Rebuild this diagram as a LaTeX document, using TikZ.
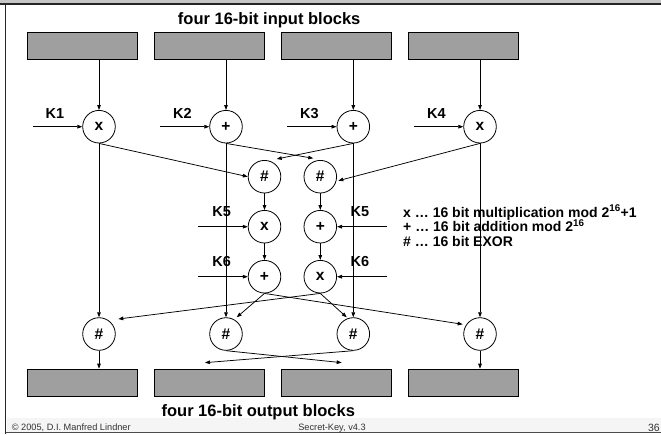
\documentclass[tikz,border=0pt]{standalone}
\usepackage{fontspec}
\setmainfont{Liberation Sans}
\usetikzlibrary{arrows.meta,calc}
\begin{document}
\begin{tikzpicture}[x=1pt,y=-1pt,
  blk/.style={draw=black,line width=1.3pt,fill=gray!75,minimum width=110pt,minimum height=27pt,inner sep=0pt},
  op/.style={circle,draw=black,line width=0.8pt,fill=white,minimum size=32.6pt,inner sep=0pt,font=\bfseries\fontsize{15.5}{15.5}\selectfont},
  arr/.style={-{Triangle[length=5pt,width=3.6pt]},line width=0.75pt},
  lab/.style={font=\bfseries\fontsize{14.5}{15}\selectfont,inner sep=0pt,anchor=base},
  ttl/.style={font=\bfseries\fontsize{16.5}{18}\selectfont,inner sep=0pt,anchor=base},
  leg/.style={font=\bfseries\fontsize{14}{14}\selectfont,inner sep=0pt,anchor=base west,text height=9pt,text depth=2.5pt},
  foot/.style={font=\fontsize{9.2}{10}\selectfont,text=black!80,inner sep=0pt,anchor=base}
]
\useasboundingbox (0,0) rectangle (661,434);
% frame
\fill[gray!45] (0,0) rectangle (661,3);
\draw[line width=1.5pt,black!85] (0,4) -- (661,4);
\fill[gray!8] (6.5,418) rectangle (661,432);
\draw[line width=0.8pt,black!70] (5.7,432.8) -- (661,432.8);
\draw[line width=1.5pt,black!85] (5.7,4) -- (5.7,433.5);
% titles
\node[ttl] (tin) at (269.2,24.3) {four 16-bit input blocks};
\node[ttl] (tout) at (258.3,416) {four 16-bit output blocks};
% blocks
\node[blk] (in1) at (82.5,46.2) {};
\node[blk] (in2) at (209.5,46.2) {};
\node[blk] (in3) at (336.7,46.2) {};
\node[blk] (in4) at (463.7,46.2) {};
\node[blk] (out1) at (82.5,382.8) {};
\node[blk] (out2) at (209.5,382.8) {};
\node[blk] (out3) at (336.7,382.8) {};
\node[blk] (out4) at (463.7,382.8) {};
% operations
\node[op] (a1) at (99,126.7) {x};
\node[op] (a2) at (226,126.7) {+};
\node[op] (a3) at (353.3,126.7) {+};
\node[op] (a4) at (480,126.7) {x};
\node[op] (hA) at (264.5,176.7) {\#};
\node[op] (hB) at (320.3,176.7) {\#};
\node[op] (m1) at (264.5,226.7) {x};
\node[op] (m2) at (320.3,226.7) {+};
\node[op] (n1) at (264.5,276.7) {+};
\node[op] (n2) at (320.3,276.7) {x};
\node[op] (d1) at (99,334) {\#};
\node[op] (d2) at (226,334) {\#};
\node[op] (d3) at (353.3,334) {\#};
\node[op] (d4) at (480,334) {\#};
% key labels
\node[lab] (K1) at (54.8,118.3) {K1};
\node[lab] (K2) at (182.3,118.3) {K2};
\node[lab] (K3) at (309.5,118.3) {K3};
\node[lab] (K4) at (436.3,118.3) {K4};
\node[lab] (K5l) at (221.7,216.7) {K5};
\node[lab] (K5r) at (360,216.7) {K5};
\node[lab] (K6l) at (221.7,266.7) {K6};
\node[lab] (K6r) at (360,266.7) {K6};
% key arrow starts
\coordinate (k1) at (33,126.7);
\coordinate (k2) at (160,126.7);
\coordinate (k3) at (287,126.7);
\coordinate (k4) at (414,126.7);
\coordinate (k5l) at (198.3,226.7);
\coordinate (k6l) at (198.3,276.7);
\coordinate (k5r) at (386.7,226.7);
\coordinate (k6r) at (386.7,276.7);
\draw[arr] (k1) -- (a1);
\draw[arr] (k2) -- (a2);
\draw[arr] (k3) -- (a3);
\draw[arr] (k4) -- (a4);
\draw[arr] (k5l) -- (m1);
\draw[arr] (k6l) -- (n1);
\draw[arr] (k5r) -- (m2);
\draw[arr] (k6r) -- (n2);
% input verticals
\draw[arr] (in1.south -| a1) -- (a1);
\draw[arr] (in2.south -| a2) -- (a2);
\draw[arr] (in3.south -| a3) -- (a3);
\draw[arr] (in4.south -| a4) -- (a4);
% long verticals
\draw[arr] (a1) -- (d1);
\draw[arr] (a2) -- (d2);
\draw[arr] (a3) -- (d3);
\draw[arr] (a4) -- (d4);
% into the middle
\draw[arr] (a1.south) -- (hA.west);
\draw[arr] (a2.south) -- ($(hB)+(-7,-18.4)$);
\draw[arr] (a3.south) -- ($(hA)+(12.2,-17.7)$);
\draw[arr] (a4.south) -- ($(hB)+(18,4)$);
\draw[arr] (hA) -- (m1);
\draw[arr] (m1) -- (n1);
\draw[arr] (hB) -- (m2);
\draw[arr] (m2) -- (n2);
% out of the middle
\draw[arr] (n1.south) -- ($(d2)+(10.7,-16.7)$);
\draw[arr] (n1.south) -- ($(d4)+(-17.3,-9.7)$);
\draw[arr] (n2.south) -- ($(d1)+(19.3,-15)$);
\draw[arr] (n2.south) -- ($(d3)+(-6.6,-16.7)$);
% to outputs
\draw[arr] (d1) -- (d1 |- out1.north);
\draw[arr] (d4) -- (d4 |- out4.north);
\draw[arr] (d2.south) -- ($(out3.north)+(5,-6)$);
\draw[arr] (d3.south) -- ($(out2.north)+(-4.5,-6)$);
% legend
\node[leg] (leg1) at (403,217.2) {x … 16 bit multiplication mod 2\textsuperscript{16}+1};
\node[leg] (leg2) at (403,231.7) {+ … 16 bit addition mod 2\textsuperscript{16}};
\node[leg] (leg3) at (403,246.2) {\# … 16 bit EXOR};
% footer
\node[foot,anchor=base west] (f1) at (11.7,430) {© 2005, D.I. Manfred Lindner};
\node[foot] (f2) at (332,430) {Secret-Key, v4.3};
\node[foot,anchor=base east,font=\fontsize{10.5}{11}\selectfont] (f3) at (660,431.5) {36};
\end{tikzpicture}
\end{document}
